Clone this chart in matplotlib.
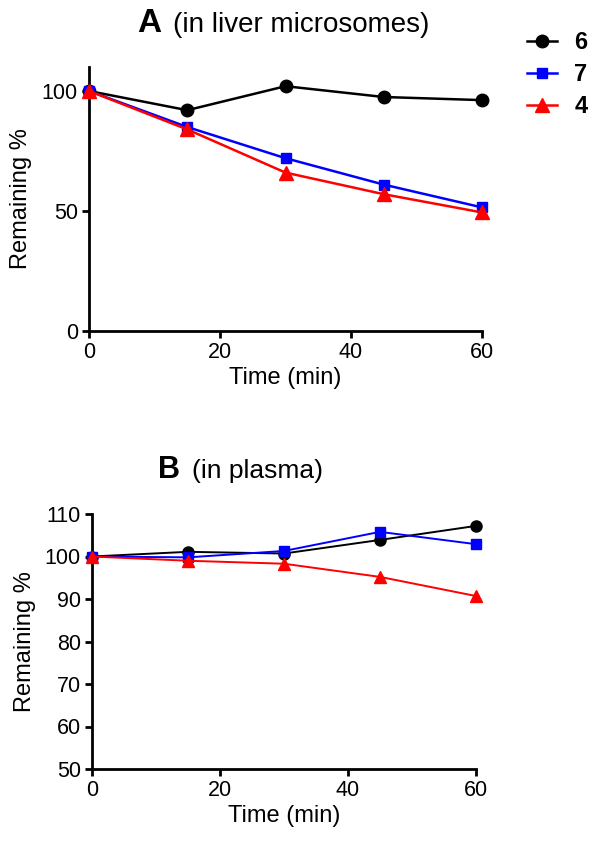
import matplotlib
matplotlib.use("Agg")
import matplotlib.pyplot as plt

plt.rcParams['font.family'] = ['Liberation Sans', 'DejaVu Sans']

time = [0, 15, 30, 45, 60]
labels = ["6", "7", "4"]
colors = ["black", "#0000ff", "#ff0000"]
markers = ["o", "s", "^"]

liver_6 = [100, 92, 102, 97.5, 96.2]
liver_7 = [100, 85, 72, 61, 51.5]
liver_4 = [100, 84, 66, 57, 49.4]

plasma_6 = [100, 101.1, 100.7, 103.9, 107.2]
plasma_7 = [100, 99.8, 101.3, 105.8, 102.9]
plasma_4 = [100, 99.0, 98.3, 95.2, 90.7]

W, H = 601, 843
fig = plt.figure(figsize=(W / 100, H / 100), dpi=100)

def px_axes(x0, x1, ytop, ybot):
    return fig.add_axes([x0 / W, 1 - ybot / H, (x1 - x0) / W, (ybot - ytop) / H])

axA = px_axes(89, 482, 67, 331)
axB = px_axes(92, 476, 514, 769)

def style(ax, ylim, yticks, ylabelpad):
    ax.set_xlim(0, 60)
    ax.set_ylim(*ylim)
    ax.set_xticks([0, 20, 40, 60])
    ax.set_yticks(yticks)
    for s in ["top", "right"]:
        ax.spines[s].set_visible(False)
    for s in ["left", "bottom"]:
        ax.spines[s].set_linewidth(2)
    ax.tick_params(direction="out", length=5, width=2, labelsize=15.5, pad=3)
    ax.set_xlabel("Time (min)", fontsize=17, labelpad=3)
    ax.set_ylabel("Remaining %", fontsize=17, labelpad=ylabelpad)

msA = [9, 7.5, 9.5]
msB = [8, 7, 8.5]
handles = []
for vals, lab, c, m, ms in zip([liver_6, liver_7, liver_4], labels, colors, markers, msA):
    h, = axA.plot(time, vals, color=c, marker=m, markersize=ms, linewidth=1.8,
                  label=lab, clip_on=False, zorder=3)
    handles.append(h)
for vals, lab, c, m, ms in zip([plasma_6, plasma_7, plasma_4], labels, colors, markers, msB):
    axB.plot(time, vals, color=c, marker=m, markersize=ms, linewidth=1.4,
             clip_on=False, zorder=3)

style(axA, (0, 110), [0, 50, 100], 7)
style(axB, (50, 110), [50, 60, 70, 80, 90, 100, 110], 6)

fig.legend(handles=handles, labels=labels, loc="upper left",
           bbox_to_anchor=(527 / W, 1 - 31 / H), frameon=False,
           prop={"weight": "bold", "size": 17}, handlelength=1.25,
           handletextpad=0.75, labelspacing=0.38, borderpad=0, borderaxespad=0)

fig.text(137 / W, 1 - 32 / H, "A", fontsize=24, fontweight="bold", va="baseline")
fig.text(173 / W, 1 - 32 / H, "(in liver microsomes)", fontsize=20, va="baseline")
fig.text(158 / W, 1 - 478 / H, "B", fontsize=22, fontweight="bold", va="baseline")
fig.text(192 / W, 1 - 478 / H, "(in plasma)", fontsize=19, va="baseline")

fig.savefig("out.png", dpi=100)
